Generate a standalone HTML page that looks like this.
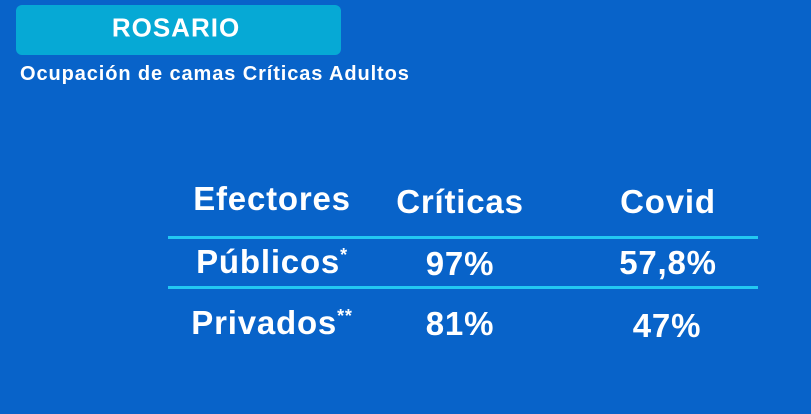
<!DOCTYPE html>
<html><head><style>
html,body{margin:0;padding:0}
body{width:811px;height:414px;background:#0863c9;position:relative;overflow:hidden;font-family:"Liberation Sans",sans-serif;color:#fff;font-weight:bold}
.box{position:absolute;left:16px;top:5px;width:325px;height:50px;background:#06a9d5;border-radius:6px}
.t{position:absolute;white-space:nowrap;transform:translate(-50%,-50%)}
.b{font-size:33px;letter-spacing:0.8px}
.line{position:absolute;left:168px;width:590px;height:3px;background:#22c8f2}
</style></head><body>
<div class="box"></div>
<div class="t" style="left:176px;top:28px;font-size:26px;letter-spacing:1px">ROSARIO</div>
<div style="position:absolute;left:20px;top:63px;font-size:20px;letter-spacing:0.9px;white-space:nowrap">Ocupación de camas Críticas Adultos</div>
<div class="t b" style="left:272px;top:199px">Efectores</div>
<div class="t b" style="left:460px;top:202px">Críticas</div>
<div class="t b" style="left:668px;top:202px">Covid</div>
<div class="line" style="top:236px"></div>
<div class="t b" style="left:272px;top:262px">Públicos<sup style="font-size:18px">*</sup></div>
<div class="t b" style="left:460px;top:264px">97%</div>
<div class="t b" style="left:668px;top:263px">57,8%</div>
<div class="line" style="top:286px"></div>
<div class="t b" style="left:272px;top:323px">Privados<sup style="font-size:18px">**</sup></div>
<div class="t b" style="left:460px;top:324px">81%</div>
<div class="t b" style="left:667px;top:326px">47%</div>
</body></html>
